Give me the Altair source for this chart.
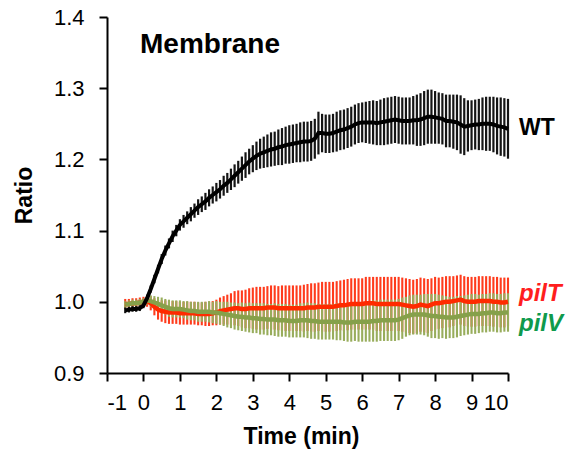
import altair as alt
import pandas as pd

time_min = [-0.5, -0.4, -0.3, -0.2, -0.1, 0.0,
            0.1, 0.2, 0.3, 0.4, 0.5, 0.6, 0.7, 0.8, 0.9, 1.0,
            1.1, 1.2, 1.3, 1.4, 1.5, 1.6, 1.7, 1.8, 1.9, 2.0,
            2.1, 2.2, 2.3, 2.4, 2.5, 2.6, 2.7, 2.8, 2.9, 3.0,
            3.1, 3.2, 3.3, 3.4, 3.5, 3.6, 3.7, 3.8, 3.9, 4.0,
            4.1, 4.2, 4.3, 4.4, 4.5, 4.6, 4.7, 4.8, 4.9, 5.0,
            5.1, 5.2, 5.3, 5.4, 5.5, 5.6, 5.7, 5.8, 5.9, 6.0,
            6.1, 6.2, 6.3, 6.4, 6.5, 6.6, 6.7, 6.8, 6.9, 7.0,
            7.1, 7.2, 7.3, 7.4, 7.5, 7.6, 7.7, 7.8, 7.9, 8.0,
            8.1, 8.2, 8.3, 8.4, 8.5, 8.6, 8.7, 8.8, 8.9, 9.0,
            9.1, 9.2, 9.3, 9.4, 9.5, 9.6, 9.7, 9.8, 9.9, 10.0]

wt_mean = [0.988, 0.989, 0.990, 0.990, 0.991, 0.995,
           1.005, 1.018, 1.032, 1.046, 1.060, 1.072, 1.082, 1.092, 1.100, 1.108,
           1.113, 1.118, 1.123, 1.128, 1.133, 1.137, 1.141, 1.146, 1.150, 1.154,
           1.158, 1.163, 1.167, 1.172, 1.177, 1.182, 1.187, 1.192, 1.197, 1.201,
           1.205, 1.208, 1.210, 1.212, 1.214, 1.215, 1.217, 1.218, 1.220, 1.221,
           1.222, 1.223, 1.224, 1.225, 1.225, 1.226, 1.229, 1.237, 1.237, 1.236,
           1.236, 1.237, 1.239, 1.241, 1.242, 1.244, 1.246, 1.249, 1.251, 1.252,
           1.252, 1.252, 1.252, 1.251, 1.252, 1.253, 1.254, 1.255, 1.256, 1.255,
           1.254, 1.254, 1.254, 1.255, 1.255, 1.256, 1.258, 1.260, 1.260, 1.259,
           1.258, 1.257, 1.254, 1.254, 1.253, 1.252, 1.249, 1.246, 1.247, 1.248,
           1.249, 1.249, 1.250, 1.250, 1.250, 1.249, 1.247, 1.246, 1.245, 1.243]

wt_err = [0.004, 0.004, 0.004, 0.004, 0.004, 0.004,
          0.005, 0.005, 0.006, 0.006, 0.007, 0.007, 0.007, 0.008, 0.008, 0.008,
          0.009, 0.009, 0.010, 0.010, 0.011, 0.011, 0.012, 0.012, 0.012, 0.013,
          0.013, 0.014, 0.014, 0.015, 0.016, 0.016, 0.017, 0.018, 0.018, 0.019,
          0.020, 0.021, 0.022, 0.023, 0.024, 0.024, 0.025, 0.026, 0.026, 0.027,
          0.027, 0.027, 0.028, 0.028, 0.028, 0.028, 0.028, 0.030, 0.027, 0.027,
          0.027, 0.027, 0.028, 0.028, 0.028, 0.028, 0.028, 0.028, 0.028, 0.028,
          0.029, 0.030, 0.031, 0.031, 0.032, 0.033, 0.033, 0.033, 0.033, 0.033,
          0.033, 0.033, 0.033, 0.034, 0.036, 0.037, 0.038, 0.038, 0.038, 0.037,
          0.036, 0.036, 0.037, 0.037, 0.038, 0.039, 0.041, 0.040, 0.036, 0.035,
          0.035, 0.036, 0.037, 0.038, 0.038, 0.039, 0.040, 0.041, 0.041, 0.042]

pilt_mean = [0.997, 0.997, 0.998, 0.998, 0.999, 1.000,
             1.001, 0.998, 0.993, 0.989, 0.987, 0.986, 0.985, 0.985, 0.985, 0.984,
             0.984, 0.984, 0.984, 0.984, 0.983, 0.983, 0.983, 0.983, 0.984, 0.985,
             0.987, 0.988, 0.989, 0.990, 0.991, 0.991, 0.990, 0.990, 0.991, 0.991,
             0.991, 0.991, 0.991, 0.992, 0.992, 0.992, 0.991, 0.991, 0.991, 0.991,
             0.991, 0.991, 0.991, 0.991, 0.992, 0.992, 0.992, 0.993, 0.993, 0.993,
             0.993, 0.993, 0.994, 0.995, 0.995, 0.996, 0.997, 0.997, 0.997, 0.997,
             0.998, 0.998, 0.998, 0.997, 0.997, 0.997, 0.997, 0.997, 0.997, 0.997,
             0.996, 0.995, 0.994, 0.993, 0.994, 0.996, 0.995, 0.994, 0.996, 0.998,
             0.998, 0.999, 1.000, 1.000, 1.001, 1.002, 1.003, 1.001, 1.000, 1.000,
             1.000, 1.001, 1.001, 1.001, 1.001, 1.000, 1.000, 0.999, 0.999, 1.000]

pilt_err = [0.007, 0.007, 0.007, 0.007, 0.007, 0.007,
            0.008, 0.010, 0.012, 0.014, 0.015, 0.016, 0.016, 0.016, 0.016, 0.016,
            0.016, 0.016, 0.016, 0.016, 0.016, 0.016, 0.017, 0.017, 0.017, 0.018,
            0.019, 0.020, 0.021, 0.022, 0.024, 0.025, 0.026, 0.027, 0.028, 0.029,
            0.030, 0.030, 0.030, 0.030, 0.031, 0.031, 0.031, 0.032, 0.032, 0.032,
            0.032, 0.032, 0.032, 0.033, 0.033, 0.034, 0.034, 0.034, 0.035, 0.035,
            0.035, 0.035, 0.035, 0.035, 0.036, 0.036, 0.036, 0.036, 0.036, 0.036,
            0.037, 0.037, 0.037, 0.038, 0.038, 0.038, 0.038, 0.038, 0.038, 0.038,
            0.038, 0.038, 0.038, 0.038, 0.038, 0.038, 0.038, 0.038, 0.037, 0.037,
            0.036, 0.036, 0.036, 0.036, 0.035, 0.035, 0.035, 0.035, 0.035, 0.035,
            0.035, 0.035, 0.035, 0.035, 0.035, 0.035, 0.035, 0.035, 0.035, 0.034]

pilv_mean = [0.996, 0.997, 0.998, 0.998, 0.999, 1.000,
             1.002, 1.001, 0.999, 0.997, 0.995, 0.993, 0.991, 0.990, 0.990, 0.990,
             0.989, 0.988, 0.987, 0.987, 0.986, 0.986, 0.986, 0.986, 0.985, 0.985,
             0.984, 0.983, 0.982, 0.981, 0.980, 0.979, 0.979, 0.978, 0.978, 0.977,
             0.977, 0.976, 0.976, 0.975, 0.975, 0.975, 0.974, 0.974, 0.974, 0.973,
             0.973, 0.973, 0.974, 0.974, 0.974, 0.973, 0.973, 0.972, 0.972, 0.972,
             0.972, 0.972, 0.972, 0.972, 0.971, 0.971, 0.971, 0.972, 0.972, 0.972,
             0.972, 0.972, 0.973, 0.973, 0.974, 0.974, 0.974, 0.974, 0.974, 0.975,
             0.977, 0.979, 0.981, 0.982, 0.982, 0.982, 0.982, 0.981, 0.980, 0.980,
             0.979, 0.979, 0.978, 0.978, 0.978, 0.979, 0.980, 0.981, 0.982, 0.983,
             0.983, 0.983, 0.984, 0.984, 0.985, 0.985, 0.984, 0.984, 0.985, 0.985]

pilv_err = [0.005, 0.005, 0.005, 0.005, 0.005, 0.005,
            0.006, 0.008, 0.009, 0.010, 0.011, 0.011, 0.012, 0.012, 0.012, 0.012,
            0.012, 0.013, 0.013, 0.013, 0.014, 0.014, 0.014, 0.015, 0.015, 0.016,
            0.016, 0.017, 0.018, 0.018, 0.019, 0.019, 0.020, 0.020, 0.021, 0.021,
            0.021, 0.022, 0.022, 0.022, 0.022, 0.023, 0.023, 0.023, 0.023, 0.023,
            0.023, 0.023, 0.024, 0.024, 0.025, 0.025, 0.025, 0.025, 0.025, 0.025,
            0.025, 0.025, 0.026, 0.026, 0.026, 0.027, 0.027, 0.027, 0.028, 0.028,
            0.028, 0.028, 0.029, 0.029, 0.029, 0.029, 0.029, 0.029, 0.029, 0.029,
            0.029, 0.028, 0.028, 0.028, 0.028, 0.028, 0.029, 0.030, 0.031, 0.031,
            0.031, 0.030, 0.030, 0.029, 0.029, 0.029, 0.028, 0.028, 0.028, 0.028,
            0.028, 0.027, 0.027, 0.027, 0.027, 0.027, 0.027, 0.027, 0.027, 0.027]

x_ticks = [-1, 0, 1, 2, 3, 4, 5, 6, 7, 8, 9, 10]
y_ticks = [0.9, 1.0, 1.1, 1.2, 1.3, 1.4]


def frame(mean, err):
    return pd.DataFrame({
        "t": time_min,
        "mean": mean,
        "lo": [m - e for m, e in zip(mean, err)],
        "hi": [m + e for m, e in zip(mean, err)],
    })


wt = frame(wt_mean, wt_err)
pilt = frame(pilt_mean, pilt_err)
pilv = frame(pilv_mean, pilv_err)

FONT = "Liberation Sans"

xs = alt.Scale(domain=[-1, 10], nice=False, zero=False)
ys = alt.Scale(domain=[0.9, 1.4], nice=False, zero=False)

x_axis = alt.Axis(values=x_ticks, title="Time (min)", grid=False, tickSize=8,
                  labelPadding=11, titlePadding=12, titleX=194,
                  labelExpr="'' + datum.value")
y_axis = alt.Axis(values=y_ticks, title="Ratio", grid=False, tickSize=8,
                  labelPadding=15, titlePadding=17, format=".1f")


def bars(df, color, width):
    return alt.Chart(df).mark_rule(color=color, strokeWidth=width).encode(
        x=alt.X("t:Q", scale=xs, axis=x_axis),
        y=alt.Y("lo:Q", scale=ys, axis=y_axis),
        y2="hi:Q",
    )


def line(df, color, width):
    return alt.Chart(df).mark_line(color=color, strokeWidth=width).encode(
        x=alt.X("t:Q", scale=xs, axis=x_axis),
        y=alt.Y("mean:Q", scale=ys, axis=y_axis),
    )


def label(df, text, color, dy, italic, size):
    last = df.tail(1)
    return alt.Chart(last).mark_text(
        text=text, color=color, align="left", baseline="middle", dx=11, dy=dy,
        font=FONT, fontSize=size, fontWeight="bold",
        fontStyle="italic" if italic else "normal",
    ).encode(
        x=alt.X("t:Q", scale=xs, axis=x_axis),
        y=alt.Y("mean:Q", scale=ys, axis=y_axis),
    )


chart = alt.layer(
    bars(pilt, "#ff3b1c", 2.1),
    bars(pilv, "#98ad5c", 2.1),
    bars(wt, "#151515", 2.2),
    line(pilt, "#ff2a00", 4.5),
    line(pilv, "#86a04a", 4.5),
    line(wt, "#000000", 4),
    label(wt, "WT", "#000000", -1, False, 23),
    label(pilt, "pilT", "#ff1e1e", -8, True, 24),
    label(pilv, "pilV", "#0f9a4c", 12, True, 24),
).properties(
    width=401,
    height=356,
    autosize=alt.AutoSizeParams(type="none"),
    padding={"left": 99, "top": 9, "right": 60, "bottom": 78},
    title=alt.TitleParams("Membrane", anchor="start", frame="group", dx=33, dy=57,
                          font=FONT, fontSize=28, fontWeight="bold",
                          color="#000000"),
).configure_view(
    stroke=None
).configure_axis(
    domainColor="#000000", domainWidth=2, tickColor="#000000", tickWidth=2,
    labelFont=FONT, labelFontSize=22, labelColor="#000000",
    titleFont=FONT, titleFontSize=23, titleFontWeight="bold", titleColor="#000000",
)

chart.save("out.html", embed_options={"renderer": "svg", "actions": False})
